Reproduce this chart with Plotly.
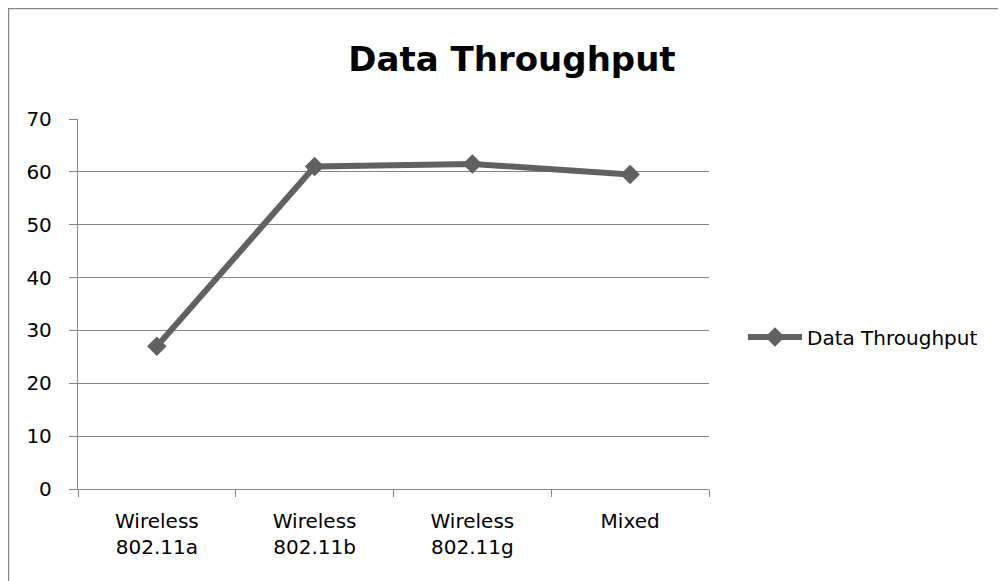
import plotly.graph_objects as go

categories = ["Wireless<br>802.11a", "Wireless<br>802.11b", "Wireless<br>802.11g", "Mixed"]
throughput = [27, 61, 61.5, 59.5]
series_name = "Data Throughput"
chart_title = "Data Throughput"
y_ticks = [0, 10, 20, 30, 40, 50, 60, 70]

OFF = 8  # page body margin
W, H = 1006 - OFF, 581 - OFF
# plot area in screen pixels: x 78..709, y 119..489
L, R, T, B = 78 - OFF, 1006 - 709, 119 - OFF, 581 - 489
pw, ph = W - L - R, H - T - B

def px_x(sx):
    return (sx - OFF - L) / pw

def px_y(sy):
    return (H - B - (sy - OFF)) / ph

grey = "#868686"
line_col = "#616161"
font = "DejaVu Sans"

fig = go.Figure()
fig.add_trace(go.Scatter(
    x=categories, y=throughput, name=series_name, mode="lines+markers",
    line=dict(color=line_col, width=6),
    marker=dict(symbol="diamond", size=15, color=line_col),
))

fig.update_layout(
    width=W, height=H,
    margin=dict(l=L, r=R, t=T, b=B, autoexpand=False),
    paper_bgcolor="white", plot_bgcolor="white",
    font=dict(family=font, size=20, color="#000000"),
    title=dict(text="<b>" + chart_title + "</b>", x=(512 - OFF) / W, xref="container", xanchor="center",
               y=1 - (59 - OFF) / H, yref="container", yanchor="middle",
               font=dict(family=font, size=34, color="#000000")),
    showlegend=True,
    legend=dict(x=px_x(743), y=px_y(337), xanchor="left", yanchor="middle",
                itemwidth=54,
                font=dict(family=font, size=20, color="#000000"),
                bgcolor="rgba(0,0,0,0)"),
    xaxis=dict(type="category", categoryorder="array", categoryarray=categories,
               range=[-0.5, len(categories) - 0.5],
               showline=True, linecolor=grey, linewidth=1.3,
               ticks="outside", tickson="boundaries", ticklen=7, tickcolor=grey, tickwidth=1.3,
               showgrid=False, zeroline=False, ticklabelstandoff=14,
               tickfont=dict(family=font, size=20, color="#000000")),
    yaxis=dict(range=[0, 70], tickvals=y_ticks, ticktext=[str(v) for v in y_ticks],
               showline=True, linecolor=grey, linewidth=1.3,
               ticks="outside", ticklen=8, tickcolor=grey, tickwidth=1.3,
               showgrid=True, gridcolor=grey, gridwidth=1.3, zeroline=False,
               ticklabelstandoff=13,
               tickfont=dict(family=font, size=20, color="#000000")),
    shapes=[dict(type="rect", xref="paper", yref="paper",
                 x0=px_x(8.5), y0=px_y(600), x1=px_x(1030), y1=px_y(8.5),
                 line=dict(color=grey, width=1.5), fillcolor="rgba(0,0,0,0)", layer="below")],
)

fig.write_html("out.html")
